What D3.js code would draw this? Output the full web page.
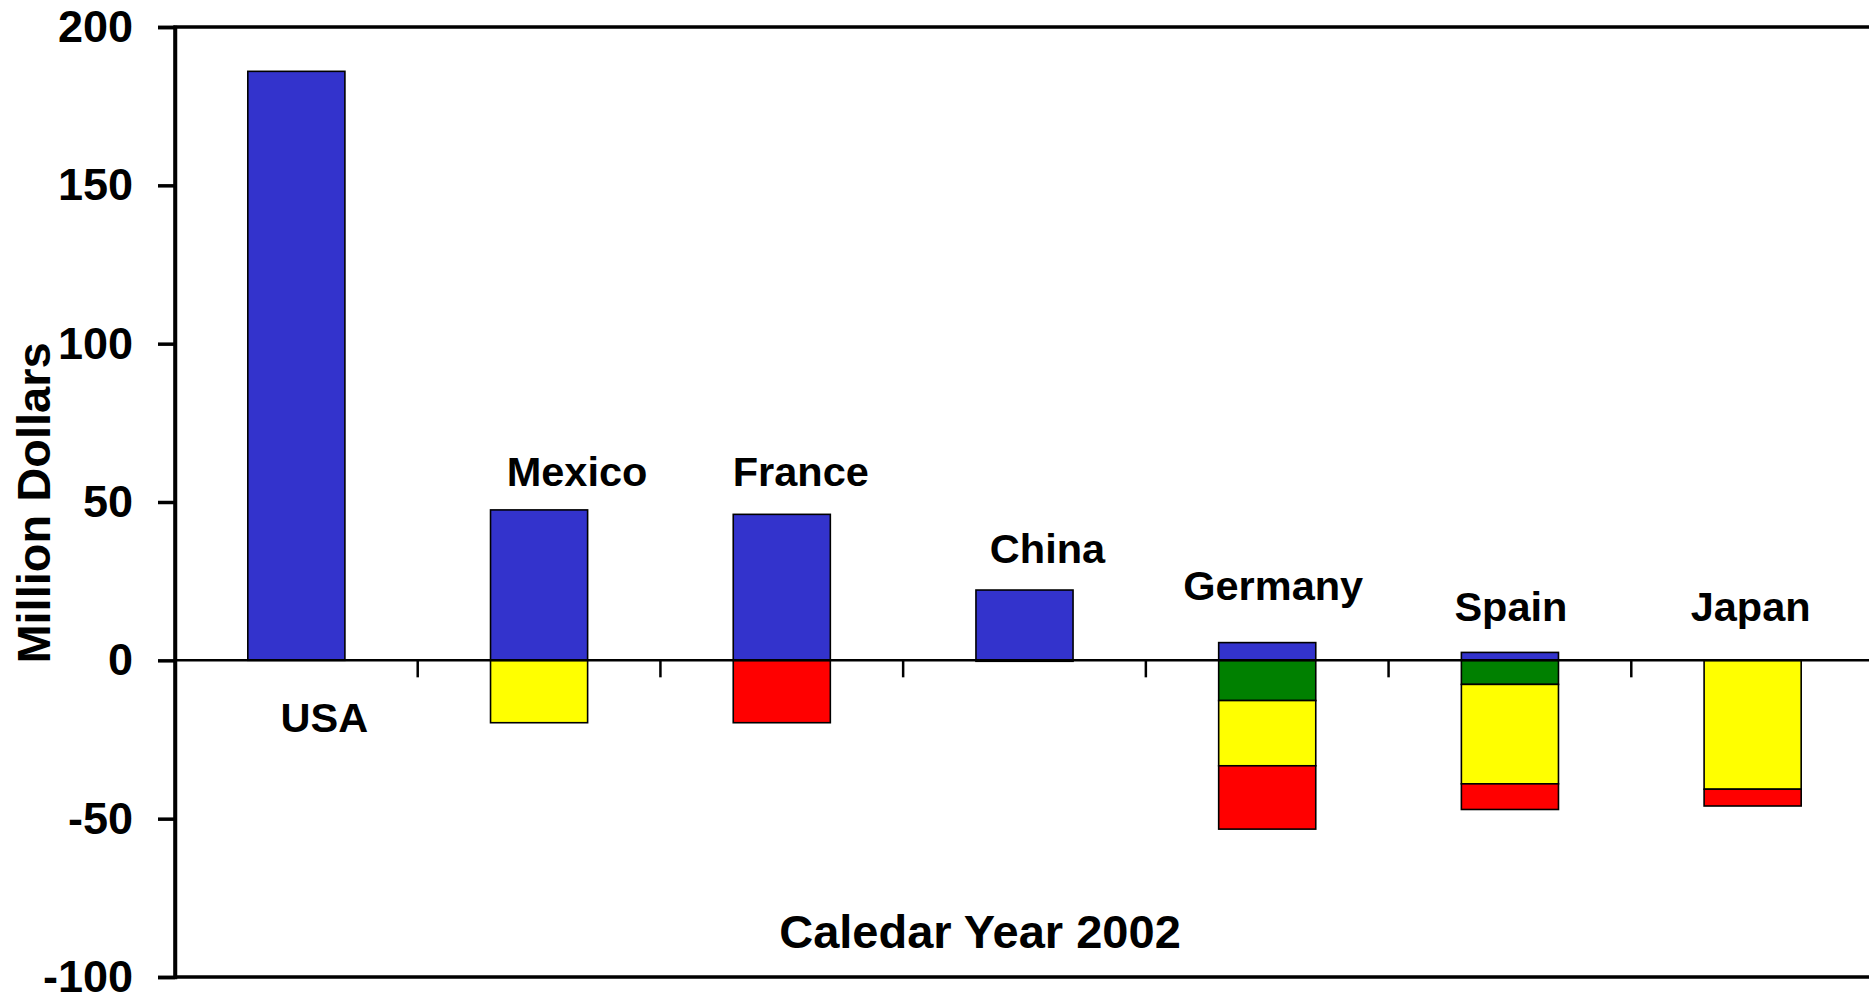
<!DOCTYPE html>
<html>
<head>
<meta charset="utf-8">
<script src="https://cdn.jsdelivr.net/npm/d3@7"></script>
<style>
  body{margin:0;background:#ffffff;}
  text{font-family:"Liberation Sans",Arial,sans-serif;font-weight:bold;fill:#000;}
</style>
</head>
<body>
<svg id="chart" width="1869" height="995"></svg>
<script>
// data (million dollars)
var paises=["USA","Mexico","France","China","Germany","Spain","Japan"];
var serieAzul=[186,47.5,46.1,22.2,5.6,2.5,0];
var serieVerde=[0,0,0,0,-12.7,-7.6,0];
var serieAmarilla=[0,-19.7,0,-0.3,-20.6,-31.4,-40.7];
var serieRoja=[0,0,-19.7,0,-20.0,-8.1,-5.3];
var ticksY=[-100,-50,0,50,100,150,200];

// where each country label sits: value on y axis and shift from band centre
var etiquetaValor=[-22.6,54.9,54.9,30.6,18.9,12.5,12.5];
var etiquetaDx=[28,38,19,23,6,1,-2];

var colores={azul:"#3333cc",verde:"#008000",amarilla:"#ffff00",roja:"#ff0000"};
var llaves=["azul","verde","amarilla","roja"];

var tabla=paises.map(function(p,i){
    return {pais:p,azul:serieAzul[i],verde:serieVerde[i],amarilla:serieAmarilla[i],roja:serieRoja[i]};
});

var svg=d3.select("#chart");
var izq=175, der=1874, arriba=27, abajo=977;

var x=d3.scaleBand().domain(paises).range([izq,der]).padding(0);
var y=d3.scaleLinear().domain([-100,200]).range([abajo,arriba]);

var pilas=d3.stack().keys(llaves).offset(d3.stackOffsetDiverging)(tabla);

// bars
var anchoBarra=x.bandwidth()*0.4;
pilas.forEach(function(serie){
    svg.append("g").selectAll("rect")
        .data(serie.filter(function(d){ return d[1]!==d[0]; }))
        .enter().append("rect")
        .attr("x",function(d){ return x(d.data.pais)+(x.bandwidth()-anchoBarra)/2; })
        .attr("y",function(d){ return y(Math.max(d[0],d[1])); })
        .attr("width",anchoBarra)
        .attr("height",function(d){ return Math.abs(y(d[0])-y(d[1])); })
        .attr("fill",colores[serie.key])
        .attr("stroke","#000")
        .attr("stroke-width",1.6);
});

// zero line with category ticks
svg.append("line")
    .attr("x1",izq).attr("x2",der)
    .attr("y1",y(0)).attr("y2",y(0))
    .attr("stroke","#000").attr("stroke-width",2.5);

svg.append("g").selectAll("line")
    .data(paises.slice(1))
    .enter().append("line")
    .attr("x1",function(d){ return x(d); })
    .attr("x2",function(d){ return x(d); })
    .attr("y1",y(0)).attr("y2",y(0)+17)
    .attr("stroke","#000").attr("stroke-width",2.5);

// plot frame
svg.append("rect")
    .attr("x",izq).attr("y",arriba)
    .attr("width",der-izq).attr("height",abajo-arriba)
    .attr("fill","none").attr("stroke","#000").attr("stroke-width",3.5);

// y axis (plain hyphen for negatives, like the original)
var ejeY=svg.append("g")
    .attr("transform","translate("+izq+",0)")
    .call(d3.axisLeft(y).tickValues(ticksY).tickSize(17).tickPadding(25)
        .tickFormat(function(d){ return String(d); }));
ejeY.select(".domain").attr("stroke-width",3.5);
ejeY.selectAll(".tick line").attr("stroke-width",3.5);
ejeY.selectAll("text").style("font-size","45px");

// country labels
svg.append("g").selectAll("text")
    .data(paises)
    .enter().append("text")
    .attr("x",function(d,i){ return x(d)+x.bandwidth()/2+etiquetaDx[i]; })
    .attr("y",function(d,i){ return y(etiquetaValor[i]); })
    .attr("text-anchor","middle")
    .style("font-size","41.5px")
    .text(function(d){ return d; });

// axis titles
svg.append("text")
    .attr("transform","translate(50,503) rotate(-90)")
    .attr("text-anchor","middle")
    .style("font-size","47px")
    .text("Million Dollars");

svg.append("text")
    .attr("x",980).attr("y",948)
    .attr("text-anchor","middle")
    .style("font-size","47px")
    .text("Caledar Year 2002");
</script>
</body>
</html>
